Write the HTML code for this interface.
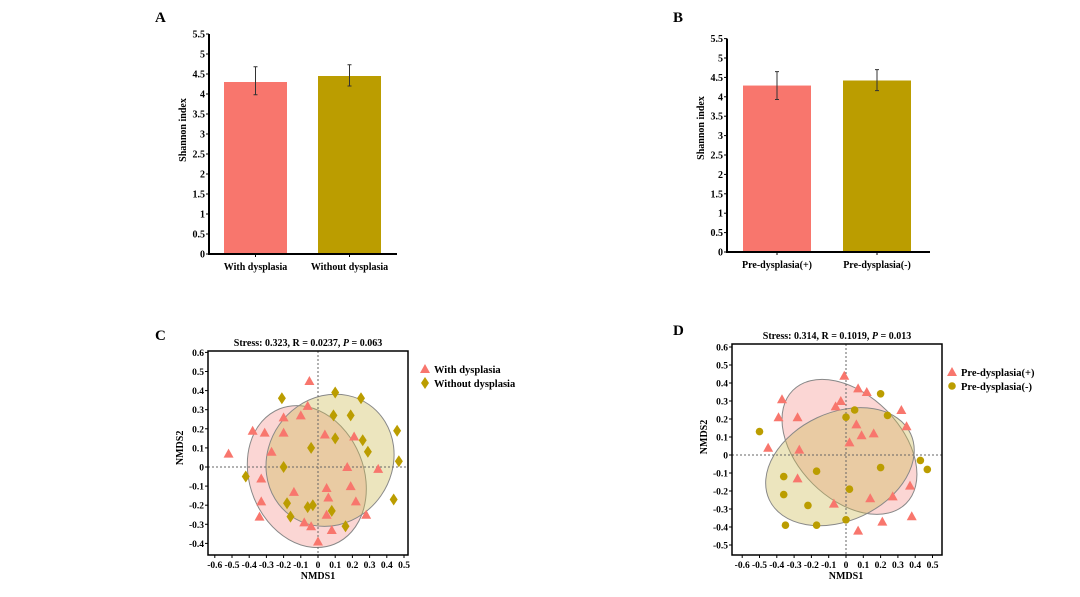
<!DOCTYPE html>
<html><head><meta charset="utf-8">
<style>
html,body{margin:0;padding:0;background:#fff;}
svg{display:block;font-family:"Liberation Serif",serif;font-weight:bold;}
</style></head>
<body>
<svg id="s" width="1080" height="597" viewBox="0 0 1080 597" xmlns="http://www.w3.org/2000/svg">
<text x="155" y="22" font-size="15">A</text>
<text x="673" y="22" font-size="15">B</text>
<text x="155" y="340" font-size="15">C</text>
<text x="673" y="335" font-size="15">D</text>
</svg>
<script>
const barCatsA=["With dysplasia","Without dysplasia"];
const barValsA=[4.3,4.45];
const barErrHiA=[4.68,4.73];
const barErrLoA=[3.98,4.2];
const barCatsB=["Pre-dysplasia(+)","Pre-dysplasia(-)"];
const barValsB=[4.29,4.42];
const barErrHiB=[4.65,4.7];
const barErrLoB=[3.93,4.16];
const barTicks=["0","0.5","1","1.5","2","2.5","3","3.5","4","4.5","5","5.5"];

const cWithX=[-0.05,-0.06,-0.1,-0.2,-0.38,-0.31,-0.2,-0.27,-0.52,0.04,0.21,0.17,0.35,-0.33,0.05,0.19,-0.14,0.06,-0.33,0.22,0.05,0.28,-0.34,-0.08,-0.04,0.08,0];
const cWithY=[0.45,0.32,0.27,0.26,0.19,0.18,0.18,0.08,0.07,0.17,0.16,0.0,-0.01,-0.06,-0.11,-0.1,-0.13,-0.16,-0.18,-0.18,-0.25,-0.25,-0.26,-0.29,-0.31,-0.33,-0.39];
const cWithoutX=[0.1,-0.21,0.25,0.09,0.19,0.1,0.26,0.46,-0.04,0.29,0.47,-0.2,-0.42,-0.18,-0.03,-0.06,0.08,-0.16,0.16,0.44];
const cWithoutY=[0.39,0.36,0.36,0.27,0.27,0.15,0.14,0.19,0.1,0.08,0.03,0,-0.05,-0.19,-0.2,-0.21,-0.23,-0.26,-0.31,-0.17];
const dPlusX=[-0.01,0.07,0.12,-0.37,-0.03,-0.06,0.32,-0.39,-0.28,0.06,0.35,0.09,0.16,0.02,-0.45,-0.27,-0.28,0.37,0.27,0.14,-0.07,0.21,0.38,0.07];
const dPlusY=[0.44,0.37,0.35,0.31,0.3,0.27,0.25,0.21,0.21,0.17,0.16,0.11,0.12,0.07,0.04,0.03,-0.13,-0.17,-0.23,-0.24,-0.27,-0.37,-0.34,-0.42];
const dMinusX=[-0.5,0.2,0.05,0.24,0,0.43,0.47,0.2,-0.17,-0.36,-0.36,0.02,-0.22,-0.35,-0.17,0];
const dMinusY=[0.13,0.34,0.25,0.22,0.21,-0.03,-0.08,-0.07,-0.09,-0.12,-0.22,-0.19,-0.28,-0.39,-0.39,-0.36];
const xTicks=["-0.6","-0.5","-0.4","-0.3","-0.2","-0.1","0","0.1","0.2","0.3","0.4","0.5"];
const yTicksC=["-0.4","-0.3","-0.2","-0.1","0","0.1","0.2","0.3","0.4","0.5","0.6"];
const yTicksD=["-0.5","-0.4","-0.3","-0.2","-0.1","0","0.1","0.2","0.3","0.4","0.5","0.6"];

const PINK="#F8766D", GOLD="#BB9D00";
const svg=document.getElementById('s');
const NS="http://www.w3.org/2000/svg";
function mk(tag,attrs,parent){const e=document.createElementNS(NS,tag);for(const k in attrs)e.setAttribute(k,attrs[k]);(parent||svg).appendChild(e);return e;}
function txt(x,y,s,size,anchor,parent){const t=mk('text',{x:x,y:y,'font-size':size,'text-anchor':anchor||'start'},parent);t.textContent=s;return t;}

function barChart(name,cats,vals,hi,lo,ox,oy,unit,axEnd,barX,barW){
  const g=mk('g',{});
  
  
  const Y=v=>oy-v*unit;
  barTicks.forEach(t=>{
    const v=parseFloat(t);
    const l=mk('line',{x1:ox-3,x2:ox,y1:Y(v),y2:Y(v),stroke:'#000','stroke-width':1},g);
    const tt=txt(ox-4,Y(v)+3.5,t,10,'end',g);
    
    
  });
  cats.forEach((c,i)=>{
    const r=mk('rect',{x:barX[i],y:Y(vals[i]),width:barW,height:vals[i]*unit,fill:i?GOLD:PINK},g);
    
    
    const cx=barX[i]+barW/2;
    const e=mk('path',{d:`M${cx-2},${Y(hi[i])}H${cx+2}M${cx},${Y(hi[i])}V${Y(lo[i])}M${cx-2},${Y(lo[i])}H${cx+2}`,stroke:'#333','stroke-width':1,fill:'none'},g);
    
    
    const tl=txt(cx,oy+16,c,10,'middle',g);
    
    
    mk('line',{x1:cx,x2:cx,y1:oy,y2:oy+3,stroke:'#000'},g);
  });
  const ax=mk('path',{d:`M${ox},${Y(5.5)}V${oy}H${axEnd}`,stroke:'#000','stroke-width':2,fill:'none'},g);
  
  
  const yt=txt(0,0,'Shannon index',10,'middle',g);
  yt.setAttribute('transform',`translate(${ox-23},${oy-124}) rotate(-90)`);
  
  
}
barChart('bar-chart-a',barCatsA,barValsA,barErrHiA,barErrLoA,209,254,40,397,[224,318],63);
barChart('bar-chart-b',barCatsB,barValsB,barErrHiB,barErrLoB,727,252,38.8,930,[743,843],68);

function tri(g,x,y,c){return mk('path',{d:`M${x},${y-5}L${x+5},${y+4}L${x-5},${y+4}Z`,fill:c},g);}
function dia(g,x,y,c){return mk('path',{d:`M${x},${y-6}L${x+4},${y}L${x},${y+6}L${x-4},${y}Z`,fill:c},g);}
function circ(g,x,y,c){return mk('circle',{cx:x,cy:y,r:3.8,fill:c},g);}

function nmds(o){
  const g=mk('g',{});
  
  
  const X=v=>o.x0+v*o.sx, Y=v=>o.y0-v*o.sy;
  // ellipses
  o.ell.forEach(e=>{
    const el=mk('ellipse',{cx:X(e[0]),cy:Y(e[1]),rx:e[2],ry:e[3],transform:`rotate(${e[4]} ${X(e[0])} ${Y(e[1])})`,fill:e[5],'fill-opacity':0.38,stroke:'#888','stroke-width':1},g);
    
    
  });
  mk('line',{x1:o.bx1,x2:o.bx2,y1:Y(0),y2:Y(0),stroke:'#666','stroke-dasharray':'2,2'},g);
  mk('line',{x1:X(0),x2:X(0),y1:o.by1,y2:o.by2,stroke:'#666','stroke-dasharray':'2,2'},g);
  const frame=mk('rect',{x:o.bx1,y:o.by1,width:o.bx2-o.bx1,height:o.by2-o.by1,fill:'none',stroke:'#000','stroke-width':1.5},g);
  
  
  xTicks.forEach(t=>{const v=parseFloat(t);mk('line',{x1:X(v),x2:X(v),y1:o.by2,y2:o.by2+3,stroke:'#000'},g);
    const l=txt(X(v),o.by2+13,t,9.5,'middle',g);});
  o.yt.forEach(t=>{const v=parseFloat(t);mk('line',{x1:o.bx1-3,x2:o.bx1,y1:Y(v),y2:Y(v),stroke:'#000'},g);
    const l=txt(o.bx1-4,Y(v)+3.5,t,9.5,'end',g);});
  o.s1x.forEach((v,i)=>{const p=tri(g,X(v),Y(o.s1y[i]),PINK);});
  o.s2x.forEach((v,i)=>{const p=o.m2(g,X(v),Y(o.s2y[i]),GOLD);});
  const ti=txt((o.bx1+o.bx2)/2,o.by1-5,'',10,'middle',g);
  ti.innerHTML=o.title;
  
  const xl=txt(X(0),o.by2+24,'NMDS1',10,'middle',g);
  const yl=txt(0,0,'NMDS2',10,'middle',g);yl.setAttribute('transform',`translate(${o.bx1-25},${Y(0.1)}) rotate(-90)`);
  
  // legend
  const lg=mk('g',{},g);
  const e1=mk('g',{},lg);
  tri(e1,o.lx,o.ly,PINK);txt(o.lx+9,o.ly+4,o.l1,10.5,'start',e1);
  const e2=mk('g',{},lg);
  o.m2(e2,o.lx,o.ly+14,GOLD);txt(o.lx+9,o.ly+18,o.l2,10.5,'start',e2);
}
nmds({name:'nmds-chart-c',x0:318,y0:467,sx:172,sy:191,bx1:208,bx2:408,by1:351,by2:555,yt:yTicksC,
  s1x:cWithX,s1y:cWithY,s2x:cWithoutX,s2y:cWithoutY,m2:dia,k1:'with-dysplasia',k2:'without-dysplasia',
  l1:'With dysplasia',l2:'Without dysplasia',lx:425,ly:369,
  title:'Stress: 0.323, R = 0.0237, <tspan font-style="italic">P</tspan> = 0.063',
  ell:[[-0.065,-0.05,57,73,-22,'#F4928E'],[0.07,0.035,62,68,35,'#CDBB55']]});
nmds({name:'nmds-chart-d',x0:846,y0:455,sx:173,sy:180,bx1:732,bx2:942,by1:344,by2:555,yt:yTicksD,
  s1x:dPlusX,s1y:dPlusY,s2x:dMinusX,s2y:dMinusY,m2:circ,k1:'pre-dysplasia-plus',k2:'pre-dysplasia-minus',
  l1:'Pre-dysplasia(+)',l2:'Pre-dysplasia(-)',lx:952,ly:372,
  title:'Stress: 0.314, R = 0.1019, <tspan font-style="italic">P</tspan> = 0.013',
  ell:[[0.02,0.045,52,80,-45,'#F4928E'],[-0.035,-0.065,78,54,-25,'#CDBB55']]});
</script>
</body></html>
